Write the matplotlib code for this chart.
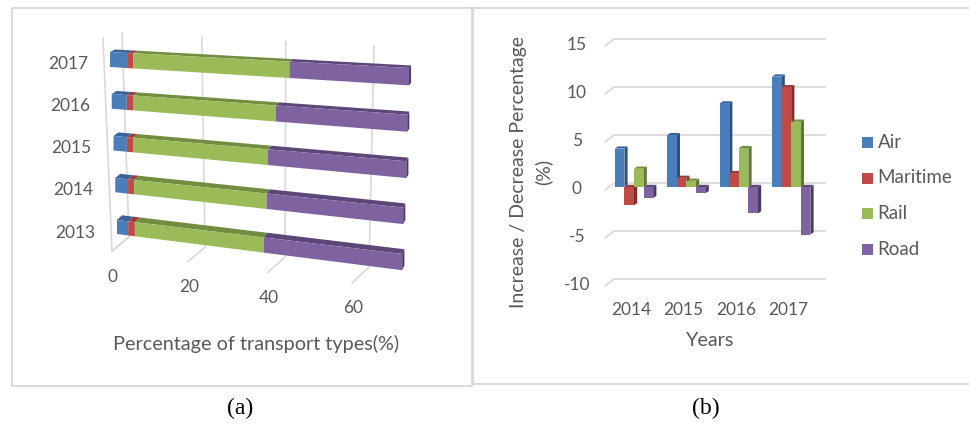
import numpy as np
import matplotlib
matplotlib.use("Agg")
from matplotlib import pyplot as plt
from matplotlib.patches import Polygon, Rectangle

plt.rcParams['font.family'] = ['Lato', 'DejaVu Sans']

years_a = ['2013', '2014', '2015', '2016', '2017']
series = ['Air', 'Maritime', 'Rail', 'Road']
air_share = [3.0, 3.4, 3.5, 3.9, 4.6]
maritime_share = [1.8, 1.6, 1.6, 1.6, 1.3]
rail_share = [32.9, 33.4, 33.6, 35.0, 37.7]
road_share = [32.7, 31.8, 31.8, 29.8, 26.7]
share_ticks = [0, 20, 40, 60]

years_b = ['2014', '2015', '2016', '2017']
air_change = [4.0, 5.4, 8.7, 11.5]
maritime_change = [-1.9, 0.95, 1.45, 10.4]
rail_change = [1.9, 0.65, 4.05, 6.8]
road_change = [-1.15, -0.65, -2.75, -4.95]
change_ticks = [-10, -5, 0, 5, 10, 15]

front = ['#4A7EBB', '#BE4B48', '#9BBB59', '#7F63A1']
top = ['#38639A', '#993B38', '#728C40', '#5C4778']
side = ['#2E527F', '#7E2F2D', '#5F7635', '#4B3A63']
grid_col = '#D9D9D9'
text_col = '#595959'
frame_col = '#DADADA'

W, H = 970, 425
fig = plt.figure(figsize=(W / 100, H / 100), dpi=100)

# page layer in pixel units, used for the oblique stacked chart and the frames
page = fig.add_axes([0, 0, 1, 1])
page.set_xlim(0, W)
page.set_ylim(H, 0)
page.axis('off')

page.plot([472, 12, 12, 472, 472], [8, 8, 386, 386, 8], color=frame_col, lw=1.4)
page.plot([970, 473.5, 473.5, 970], [8, 8, 384, 384], color=frame_col, lw=1.4)


def stretch(u):
    return 3.7 * u + 0.005 * u ** 2


# position on a bar's front face: u = share, r = row, t = 0 top edge .. 1 bottom edge
def bar_point(u, r, t=0.0, d=0.0):
    run = stretch(u) * (1 + 0.0125 * r)
    x = 117 - 1.75 * r + run
    y = 220 - 42 * r + (0.119 - 0.0164 * r) * run
    y += t * (14 + 0.25 * r + 0.008 * run)
    x += d * (5 - 3 * run / 300)
    y -= d * (4.7 - 0.55 * r)
    return x, y


def hbar_segment(u0, u1, r, i, last):
    p = [bar_point(u0, r), bar_point(u1, r), bar_point(u1, r, d=1), bar_point(u0, r, d=1)]
    page.add_patch(Polygon(p, fc=top[i], ec='none', zorder=3))
    p = [bar_point(u0, r), bar_point(u1, r), bar_point(u1, r, 1), bar_point(u0, r, 1)]
    page.add_patch(Polygon(p, fc=front[i], ec='none', zorder=4))
    if last:
        p = [bar_point(u1, r), bar_point(u1, r, d=1), bar_point(u1, r, 1, 1), bar_point(u1, r, 1)]
        page.add_patch(Polygon(p, fc=side[i], ec='none', zorder=4))


# back wall and floor of the stacked chart
page.plot([103, 112, 129], [38, 251, 237], color=grid_col, lw=1.2, zorder=1)
for u in share_ticks:
    back_top = (122 + stretch(u) * 1.05, 33 + 0.217 * u)
    back_low = (129 + stretch(u), 237 + 0.5 * u)
    front_low = (112 + stretch(u), 251 + 0.533 * u)
    page.plot(*zip(back_top, back_low, front_low), color=grid_col, lw=1.2, zorder=1)
    page.text(front_low[0] + 1, front_low[1] + 25.5, str(u), color=text_col, fontsize=12.5,
              ha='center', va='center')

shares = np.array([air_share, maritime_share, rail_share, road_share])
for r, year in enumerate(years_a):
    edges = np.concatenate([[0], np.cumsum(shares[:, r])])
    for i in range(len(series)):
        hbar_segment(edges[i], edges[i + 1], r, i, i == len(series) - 1)
    page.text(75 - 1.75 * r, 232.5 - 42.2 * r, year, color=text_col, fontsize=12.5,
              ha='center', va='center')

page.text(256, 344, 'Percentage of transport types(%)', color=text_col, fontsize=14.3,
          ha='center', va='center')

page.text(240, 408, '(a)', family='Liberation Serif', fontsize=17, color='black',
          ha='center', va='center')
page.text(706, 408, '(b)', family='Liberation Serif', fontsize=17, color='black',
          ha='center', va='center')

# change chart on its own value scale: one unit is 9.6 px, one year 52.4 px
left, right, upper, lower = 560, 960, 20, 330
zero_y = 187
unit = 9.6
pitch = 52.4
ax = fig.add_axes([left / W, 1 - lower / H, (right - left) / W, (lower - upper) / H])
ax.set_xlim((left - 634) / pitch, (right - 634) / pitch)
ax.set_ylim((zero_y - lower) / unit, (zero_y - upper) / unit)
ax.axis('off')
ax.patch.set_alpha(0)

px = 1 / pitch
py = 1 / unit
for v in change_ticks:
    y = v - 3 * py
    ax.plot([-29 * px, -20 * px, 191 * px], [y, y + 7 * py, y + 7 * py],
            color=grid_col, lw=1.2, zorder=1, clip_on=False)
    ax.text(-57 * px, v - 2 * py, str(v), color=text_col, fontsize=12.5, ha='center', va='center')

bar_w = 9.6 * px
dx = 3.2 * px
dy = 2.2 * py
changes = [air_change, maritime_change, rail_change, road_change]
for g in range(len(years_b)):
    for i in range(len(series)):
        v = changes[i][g]
        x0 = g + (i - 2) * bar_w
        x1 = x0 + bar_w
        hi = max(v, 0)
        lo = min(v, 0)
        z = 3 + g + i * 0.1
        ax.add_patch(Polygon([(x1, lo), (x1 + dx, lo + dy), (x1 + dx, hi + dy), (x1, hi)],
                             fc=side[i], ec='none', zorder=z))
        ax.add_patch(Polygon([(x0, hi), (x1, hi), (x1 + dx, hi + dy), (x0 + dx, hi + dy)],
                             fc=top[i], ec='none', zorder=z))
        ax.add_patch(Rectangle((x0, lo), bar_w, hi - lo, fc=front[i], ec='none', zorder=z + 0.01))
    ax.text(g - 3 * px, -12.8, years_b[g], color=text_col, fontsize=12.5, ha='center', va='center')

ax.text(76 * px, -16.0, 'Years', color=text_col, fontsize=14.2, ha='center', va='center')
ax.text(-103 * px, 1.6, 'Increase / Decrease Percentage\n(%)', color=text_col, fontsize=14,
        rotation=90, ha='center', va='center', linespacing=1.45, multialignment='center')

# legend entries are placed by hand beside the bars
for i, name in enumerate(series):
    y_px = 142.5 + 35.7 * i
    page.add_patch(Rectangle((862, y_px - 5.5), 11, 11, fc=front[i], ec='none'))
    page.text(877.5, y_px - 0.5, name, color=text_col, fontsize=13.5, ha='left', va='center')

fig.savefig('out.png', dpi=100)
